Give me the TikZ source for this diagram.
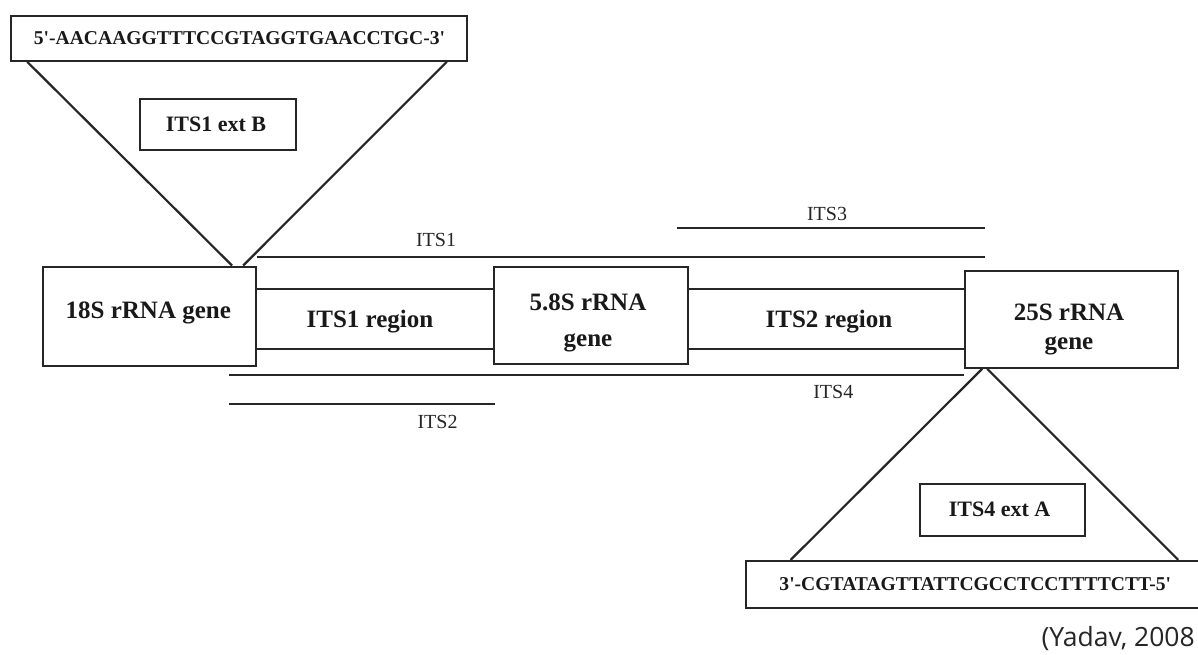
\documentclass[tikz,border=0pt]{standalone}
\usepackage{fontspec}
\newfontfamily\tms{Liberation Serif}
\newfontfamily\yfont{Open Sans}
\usetikzlibrary{calc}
\begin{document}
\begin{tikzpicture}[x=1pt,y=-1pt,
  box/.style={draw=black!85, line width=2.2pt, rectangle, inner sep=0pt},
  ln/.style={draw=black!85, line width=2.2pt},
  bl/.style={font=\tms\fontsize{25}{30}\selectfont\bfseries, anchor=base, inner sep=0pt, text=black!90},
  ext/.style={font=\tms\fontsize{22}{26}\selectfont\bfseries, anchor=base, inner sep=0pt, text=black!90},
  seqt/.style={font=\tms\fontsize{19.6}{22}\selectfont\bfseries, anchor=base, inner sep=0pt, text=black!90},
  pl/.style={font=\tms\fontsize{20}{24}\selectfont, anchor=base, inner sep=0pt, text=black!85},
]
\clip (0,0) rectangle (1198,655);
\fill[white] (0,0) rectangle (1198,655);

% boxes
\node[box, minimum width=455.7pt, minimum height=44.7pt] (seqtop) at (238.85,38.35) {};
\node[box, minimum width=156pt, minimum height=51.3pt] (extB) at (218,124.35) {};
\node[box, minimum width=213pt, minimum height=99.3pt] (n18) at (149.2,316.35) {};
\node[box, minimum width=193.4pt, minimum height=97.6pt] (n58) at (591,315.5) {};
\node[box, minimum width=212.7pt, minimum height=96.7pt] (n25) at (1071.35,319.35) {};
\node[box, minimum width=165pt, minimum height=52pt] (extA) at (1002.5,510) {};
\node[box, minimum width=459pt, minimum height=46.7pt] (seqbot) at (975.5,584.35) {};

% texts
\node[seqt] (seqtoptxt) at (239.5,45) {5'-AACAAGGTTTCCGTAGGTGAACCTGC-3'};
\node[ext] (extBtxt) at (216,131.7) {ITS1 ext B};
\node[bl] (t18) at (148.3,318.3) {18S rRNA gene};
\node[bl] (t1r) at (370,327.3) {ITS1 region};
\node[bl] (t58a) at (588,310) {5.8S rRNA};
\node[bl] (t58b) at (588,346) {gene};
\node[bl] (t2r) at (829,327) {ITS2 region};
\node[bl] (t25a) at (1069,320.7) {25S rRNA};
\node[bl] (t25b) at (1069,349.3) {gene};
\node[ext] (extAtxt) at (999.5,516.7) {ITS4 ext A};
\node[seqt] (seqbottxt) at (975.3,590.7) {3'-CGTATAGTTATTCGCCTCCTTTTCTT-5'};

% region lines between gene boxes
\coordinate (ry1) at (0,289.3);
\coordinate (ry2) at (0,348.7);
\draw[ln] (n18.east |- ry1) -- (n58.west |- ry1);
\draw[ln] (n18.east |- ry2) -- (n58.west |- ry2);
\draw[ln] (n58.east |- ry1) -- (n25.west |- ry1);
\draw[ln] (n58.east |- ry2) -- (n25.west |- ry2);

% primer span lines
\coordinate (its3a) at (676.7,228.3);
\coordinate (its3b) at (985,228.3);
\coordinate (its1b) at (985,257.3);
\coordinate (its4a) at (229,375);
\coordinate (its2b) at (495,404);
\coordinate (its2a) at (229,404);
\draw[ln] (its3a) -- (its3b);
\draw[ln] (n18.east |- its1b) -- (its1b);
\draw[ln] (its4a) -- (n25.west |- its4a);
\draw[ln] (its2a) -- (its2b);

\node[pl] (l3) at (827,220) {ITS3};
\node[pl] (l1) at (436,246.7) {ITS1};
\node[pl] (l4) at (833.3,398.3) {ITS4};
\node[pl] (l2) at (437.5,428) {ITS2};

% top triangle
\coordinate (tl) at ([xshift=17.3pt]seqtop.south west);
\coordinate (tr) at ([xshift=-21pt]seqtop.south east);
\coordinate (al) at ([xshift=-24.7pt]n18.north east);
\coordinate (ar) at ([xshift=-13.7pt]n18.north east);
\draw[ln] (tl) -- (al);
\draw[ln] (ar) -- (tr);

% bottom triangle
\coordinate (bl1) at ([xshift=18.3pt]n25.south west);
\coordinate (br1) at ([xshift=23.3pt]n25.south west);
\coordinate (bl2) at ([xshift=45.7pt]seqbot.north west);
\coordinate (br2) at ([xshift=433.3pt]seqbot.north west);
\draw[ln] (bl1) -- (bl2);
\draw[ln] (br1) -- (br2);

% source
\node[font=\yfont\fontsize{26.5}{30}\selectfont, anchor=base east, inner sep=0pt, text=black!85] (src) at (1195,646) {(Yadav, 2008};
\end{tikzpicture}
\end{document}
